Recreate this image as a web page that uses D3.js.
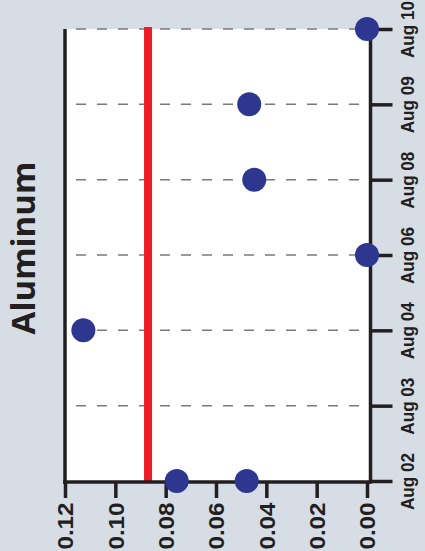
<!DOCTYPE html>
<html>
<head>
<meta charset="utf-8">
<script src="https://cdn.jsdelivr.net/npm/d3@7"></script>
<style>
  html, body { margin: 0; padding: 0; background: #d6dde5; }
  svg { display: block; }
</style>
</head>
<body>
<div id="chart"></div>
<script>
// Sampling dates (ordinal, evenly spaced along the vertical axis)
const dates = ["Aug 02", "Aug 03", "Aug 04", "Aug 06", "Aug 08", "Aug 09", "Aug 10"];

// Measured aluminum concentrations
const sampleDates = ["Aug 02", "Aug 02", "Aug 04", "Aug 06", "Aug 08", "Aug 09", "Aug 10"];
const sampleValues = [0.0756, 0.0478, 0.1127, 0.0, 0.0448, 0.0468, 0.0];

// Reference limit drawn as a vertical red line
const limitValue = 0.087;

// Concentration axis ticks
const valueTicks = [0.12, 0.10, 0.08, 0.06, 0.04, 0.02, 0.00];

const title = "Aluminum";

const W = 425, H = 551;
const plot = { left: 65, right: 370, top: 29, bottom: 482 };

const svg = d3.select("#chart").append("svg")
  .attr("width", W).attr("height", H);

svg.append("rect").attr("width", W).attr("height", H).attr("fill", "#d6dde5");

const x = d3.scaleLinear().domain([0.12, 0]).range([65, 367]);
const y = d3.scalePoint().domain(dates).range([481, 29]);

// plot background
svg.append("rect")
  .attr("x", plot.left).attr("y", plot.top)
  .attr("width", plot.right - plot.left).attr("height", plot.bottom - plot.top)
  .attr("fill", "#ffffff");

// dashed grid lines at each date
svg.append("g").selectAll("line")
  .data(dates.slice(1))
  .join("line")
  .attr("x1", 76).attr("x2", 366)
  .attr("y1", d => y(d)).attr("y2", d => y(d))
  .attr("stroke", "#7a7a7a")
  .attr("stroke-width", 1.5)
  .attr("stroke-dasharray", "10,11");

// left frame line
svg.append("line")
  .attr("x1", plot.left).attr("x2", plot.left)
  .attr("y1", plot.top).attr("y2", plot.bottom + 1.5)
  .attr("stroke", "#231f20").attr("stroke-width", 3.5);

// limit line
svg.append("line")
  .attr("x1", x(limitValue)).attr("x2", x(limitValue))
  .attr("y1", 27).attr("y2", plot.bottom)
  .attr("stroke", "#ec1c24").attr("stroke-width", 8);

// bottom value axis
const xAxis = d3.axisBottom(x)
  .tickValues(valueTicks)
  .tickSize(16)
  .tickSizeOuter(0)
  .tickFormat(d3.format(".2f"));

const gx = svg.append("g")
  .attr("transform", `translate(0,${plot.bottom})`)
  .call(xAxis);
gx.select(".domain")
  .attr("d", `M${plot.left - 2},0H${plot.right + 1}`)
  .attr("stroke", "#231f20").attr("stroke-width", 3.5);
gx.selectAll(".tick line").attr("stroke", "#231f20").attr("stroke-width", 3.5);
gx.selectAll(".tick text")
  .attr("x", 0).attr("y", 0).attr("dy", "0.35em")
  .attr("text-anchor", "end")
  .attr("transform", "translate(0,20.5) rotate(-90) scale(1.1,1)")
  .attr("fill", "#231f20")
  .style("font-family", "'Liberation Sans', Arial, sans-serif")
  .style("font-weight", "bold")
  .style("font-size", "22px");

// right date axis
const yAxis = d3.axisRight(y).tickSize(22).tickSizeOuter(0);
const gy = svg.append("g")
  .attr("transform", `translate(${plot.right + 0.5},0)`)
  .call(yAxis);
gy.select(".domain")
  .attr("d", `M0,${plot.top}V${plot.bottom + 1.5}`)
  .attr("stroke", "#231f20").attr("stroke-width", 3.5);
gy.selectAll(".tick line").attr("stroke", "#231f20").attr("stroke-width", 3.5);
gy.selectAll(".tick text")
  .attr("x", 0).attr("y", 0).attr("dy", 0)
  .attr("text-anchor", "middle")
  .attr("transform", "translate(43.5,0) rotate(-90) scale(0.9,1)")
  .attr("fill", "#231f20")
  .style("font-family", "'Liberation Sans', Arial, sans-serif")
  .style("font-weight", "bold")
  .style("font-size", "19px");

// sample points
svg.append("g").selectAll("circle")
  .data(sampleValues.map((v, i) => ({ date: sampleDates[i], value: v })))
  .join("circle")
  .attr("cx", d => x(d.value))
  .attr("cy", d => y(d.date))
  .attr("r", 12)
  .attr("fill", "#2e3790");

// title
svg.append("text")
  .attr("transform", "translate(35,248) rotate(-90)")
  .attr("text-anchor", "middle")
  .attr("fill", "#231f20")
  .style("font-family", "'Open Sans', sans-serif")
  .style("font-weight", "bold")
  .style("font-size", "33px")
  .text(title);
</script>
</body>
</html>
